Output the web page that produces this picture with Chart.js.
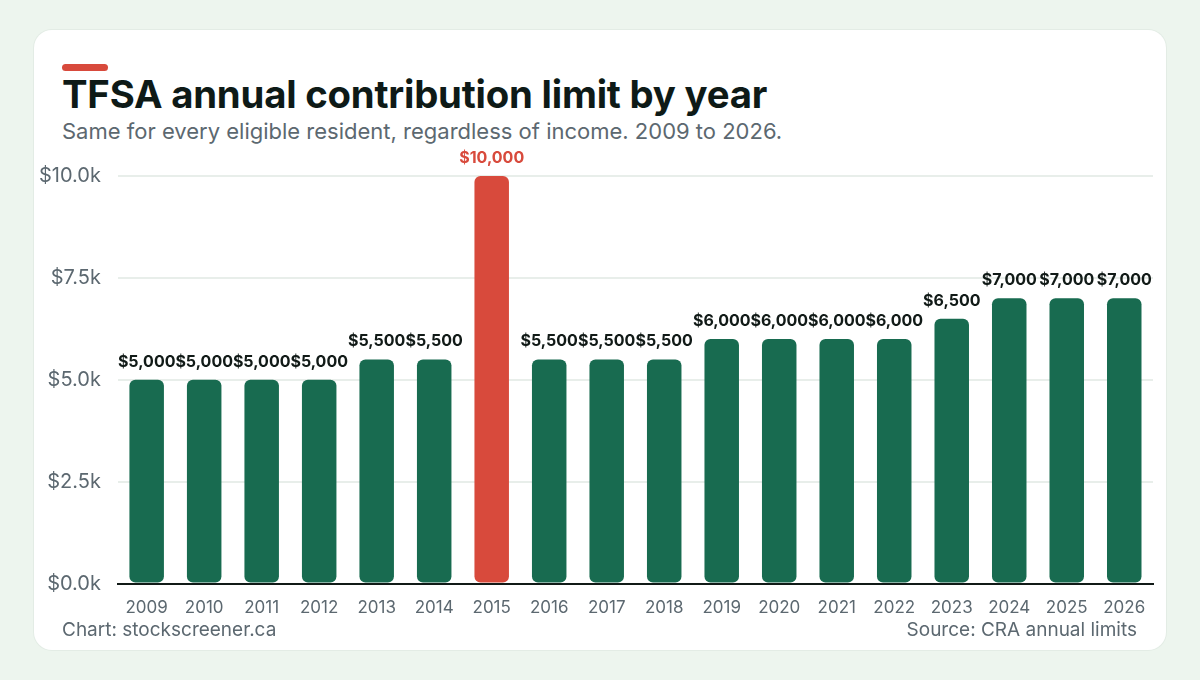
<!DOCTYPE html>
<html><head><meta charset="utf-8">
<script src="https://cdn.jsdelivr.net/npm/chart.js@4/dist/chart.umd.min.js"></script>
<style>
html,body{margin:0;padding:0;width:1200px;height:680px;background:#edf5ee;overflow:hidden;font-family:Inter,"Noto Sans",sans-serif;}
#card{position:absolute;left:34px;top:30px;width:1132px;height:620px;background:#fff;border-radius:18px;box-shadow:0 0 0 1px #e3ece5;}
#accent{position:absolute;left:28px;top:34px;width:46px;height:7px;border-radius:4px;background:#d84a3c;}
#title{position:absolute;left:28px;top:41px;font-size:38.3px;font-weight:700;color:#0e1a17;letter-spacing:-0.2px;white-space:nowrap;}
#sub{position:absolute;left:28px;top:88px;font-size:22px;color:#5c6870;white-space:nowrap;}
#wrap{position:absolute;left:-12px;top:110px;width:1144px;height:492px;}
#fl{position:absolute;left:28px;top:588px;font-size:19px;color:#5c6870;}
#fr{position:absolute;right:29px;top:588px;font-size:19px;color:#5c6870;}
</style></head>
<body>
<div id="card">
<div id="accent"></div>
<div id="title">TFSA annual contribution limit by year</div>
<div id="sub">Same for every eligible resident, regardless of income. 2009 to 2026.</div>
<div id="wrap"><canvas id="c" width="1144" height="492"></canvas></div>
<div id="fl">Chart: stockscreener.ca</div>
<div id="fr">Source: CRA annual limits</div>
</div>
<script>
const years = ["2009","2010","2011","2012","2013","2014","2015","2016","2017","2018","2019","2020","2021","2022","2023","2024","2025","2026"];
const limits = [5000,5000,5000,5000,5500,5500,10000,5500,5500,5500,6000,6000,6000,6000,6500,7000,7000,7000];
const highlightYear = "2015";
const yTicks = [0,2500,5000,7500,10000];

const GREEN = "#186b50", RED = "#d84a3c";
const colors = years.map(y => y === highlightYear ? RED : GREEN);

const labelPlugin = {
  id: 'valueLabels',
  afterDatasetsDraw(chart) {
    const ctx = chart.ctx;
    const meta = chart.getDatasetMeta(0);
    ctx.save();
    ctx.font = "700 16px Inter, sans-serif";
    ctx.textAlign = "center";
    ctx.textBaseline = "alphabetic";
    meta.data.forEach((bar, i) => {
      ctx.fillStyle = years[i] === highlightYear ? RED : "#111a17";
      ctx.fillText("$" + limits[i].toLocaleString("en-US"), bar.x, bar.y - 13);
    });
    ctx.restore();
  }
};

new Chart(document.getElementById("c"), {
  type: "bar",
  data: { labels: years, datasets: [{ data: limits, backgroundColor: colors, borderRadius: 6, borderSkipped: false, barPercentage: 0.6, categoryPercentage: 1.0 }] },
  options: {
    responsive: false, animation: false,
    layout: { padding: { top: 36, right: 13, left: 0, bottom: 0 } },
    plugins: { legend: { display: false }, tooltip: { enabled: false } },
    scales: {
      x: {
        grid: { display: false, drawTicks: false },
        border: { display: true, color: "#111a17", width: 2 },
        ticks: { color: "#5c6870", font: { size: 17, family: "Inter" }, padding: 14, maxRotation: 0, autoSkip: false }
      },
      y: {
        min: 0, max: 10000,
        afterBuildTicks(axis) { axis.ticks = yTicks.map(v => ({ value: v })); },
        grid: { color: "#e8eeea", lineWidth: 2, drawTicks: false },
        border: { display: false },
        ticks: { color: "#5c6870", font: { size: 20, family: "Inter" }, padding: 17,
          callback: v => "$" + (v / 1000).toFixed(1) + "k" }
      }
    }
  },
  plugins: [labelPlugin]
});
</script>
</body></html>
